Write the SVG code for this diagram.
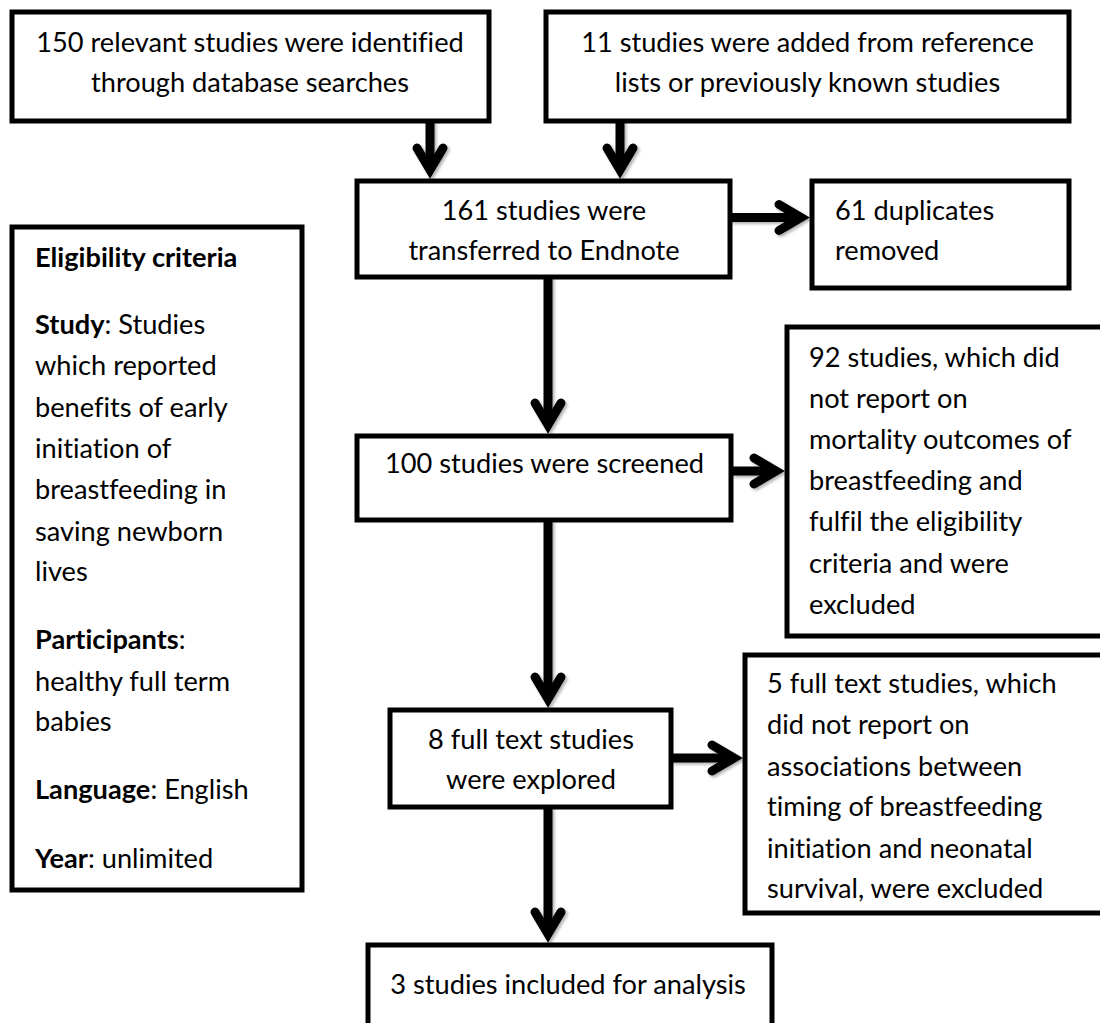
<svg xmlns="http://www.w3.org/2000/svg" width="1100" height="1023" viewBox="0 0 1100 1023">
<style>
.box{fill:#fff;stroke:#000;stroke-width:5}
.t{font-family:Lato,"Liberation Sans",sans-serif;font-size:27.2px;fill:#000;font-variant-ligatures:none}
.c{text-anchor:middle}
.b{font-weight:bold}
.sh{fill:none;stroke:#000;stroke-width:9}
.hd{fill:none;stroke:#000;stroke-width:9;stroke-linecap:round;stroke-linejoin:miter}
</style>
<defs>
<filter id="ds" x="-20%" y="-20%" width="140%" height="140%">
<feDropShadow dx="2" dy="2" stdDeviation="1.5" flood-color="#000" flood-opacity="0.3"/>
</filter>
</defs>
<rect width="1100" height="1023" fill="#fff"/>

<g id="connectors" filter="url(#ds)">
<line class="sh" x1="430" y1="121" x2="430" y2="170"/>
<polyline class="hd" points="417,148 430,170 443,148"/>
<line class="sh" x1="620" y1="121" x2="620" y2="170"/>
<polyline class="hd" points="607,148 620,170 633,148"/>
<line class="sh" x1="730" y1="217.5" x2="801" y2="217.5"/>
<polyline class="hd" points="779,204.5 801,217.5 779,230.5"/>
<line class="sh" x1="548" y1="277" x2="548" y2="425"/>
<polyline class="hd" points="535,403 548,425 561,403"/>
<line class="sh" x1="731" y1="471" x2="776" y2="471"/>
<polyline class="hd" points="754,458 776,471 754,484"/>
<line class="sh" x1="548" y1="520" x2="548" y2="699"/>
<polyline class="hd" points="535,677 548,699 561,677"/>
<line class="sh" x1="671" y1="758" x2="734" y2="758"/>
<polyline class="hd" points="712,745 734,758 712,771"/>
<line class="sh" x1="548" y1="807" x2="548" y2="934"/>
<polyline class="hd" points="535,912 548,934 561,912"/>
</g>

<g id="n1">
<rect class="box" x="12" y="12" width="477" height="109"/>
<text class="t c" x="250" y="52">150 relevant studies were identified</text>
<text class="t c" x="250" y="92">through database searches</text>
</g>
<g id="n2">
<rect class="box" x="546" y="12" width="523" height="109"/>
<text class="t c" x="807.5" y="52">11 studies were added from reference</text>
<text class="t c" x="807.5" y="92">lists or previously known studies</text>
</g>
<g id="n3">
<rect class="box" x="357" y="181" width="373" height="96"/>
<text class="t c" x="544" y="220">161 studies were</text>
<text class="t c" x="544" y="260">transferred to Endnote</text>
</g>
<g id="n4">
<rect class="box" x="812" y="181" width="257" height="107"/>
<text class="t" x="835" y="220">61 duplicates</text>
<text class="t" x="835" y="260">removed</text>
</g>
<g id="n5">
<rect class="box" x="357" y="436" width="374" height="84"/>
<text class="t c" x="544.5" y="473">100 studies were screened</text>
</g>
<g id="n6">
<rect class="box" x="787" y="327" width="330" height="309"/>
<text class="t" x="809" y="367">92 studies, which did</text>
<text class="t" x="809" y="408">not report on</text>
<text class="t" x="809" y="449">mortality outcomes of</text>
<text class="t" x="809" y="490">breastfeeding and</text>
<text class="t" x="809" y="531">fulfil the eligibility</text>
<text class="t" x="809" y="573">criteria and were</text>
<text class="t" x="809" y="614">excluded</text>
</g>
<g id="n7">
<rect class="box" x="12" y="227" width="290" height="663"/>
<text class="t b" x="35" y="267">Eligibility criteria</text>
<text class="t" x="35" y="334"><tspan class="b">Study</tspan>: Studies</text>
<text class="t" x="35" y="375">which reported</text>
<text class="t" x="35" y="417">benefits of early</text>
<text class="t" x="35" y="458">initiation of</text>
<text class="t" x="35" y="499">breastfeeding in</text>
<text class="t" x="35" y="541">saving newborn</text>
<text class="t" x="35" y="581">lives</text>
<text class="t" x="35" y="649"><tspan class="b">Participants</tspan>:</text>
<text class="t" x="35" y="691">healthy full term</text>
<text class="t" x="35" y="731">babies</text>
<text class="t" x="35" y="799"><tspan class="b">Language</tspan>: English</text>
<text class="t" x="35" y="868"><tspan class="b">Year</tspan>: unlimited</text>
</g>
<g id="n8">
<rect class="box" x="390" y="710" width="281" height="97"/>
<text class="t c" x="531" y="749">8 full text studies</text>
<text class="t c" x="531" y="789">were explored</text>
</g>
<g id="n9">
<rect class="box" x="745" y="655" width="370" height="258"/>
<text class="t" x="767" y="693">5 full text studies, which</text>
<text class="t" x="767" y="734">did not report on</text>
<text class="t" x="767" y="776">associations between</text>
<text class="t" x="767" y="816">timing of breastfeeding</text>
<text class="t" x="767" y="858">initiation and neonatal</text>
<text class="t" x="767" y="898">survival, were excluded</text>
</g>
<g id="n10">
<rect class="box" x="368" y="945" width="404" height="100"/>
<text class="t c" x="568" y="994">3 studies included for analysis</text>
</g>
</svg>
